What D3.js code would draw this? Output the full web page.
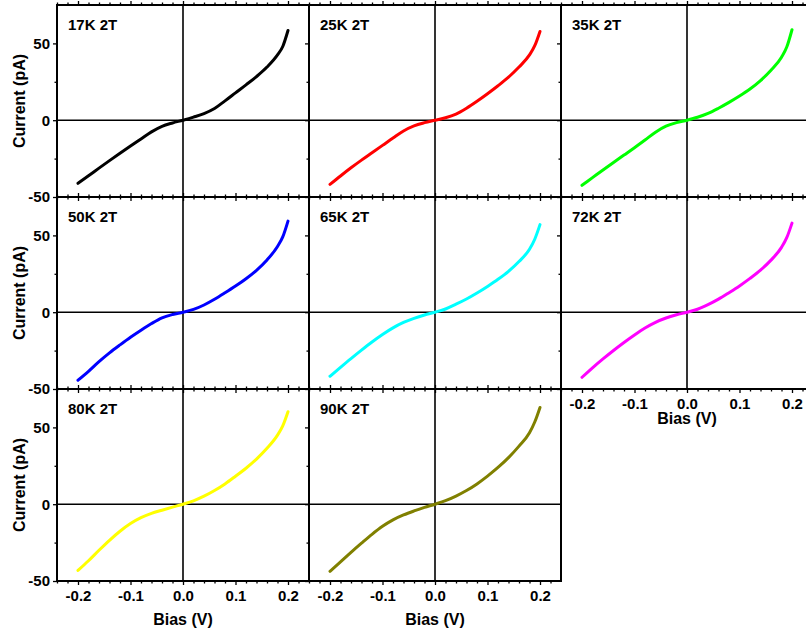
<!DOCTYPE html>
<html>
<head>
<meta charset="utf-8">
<script src="https://cdn.jsdelivr.net/npm/d3@7"></script>
<style>
  html, body { margin: 0; padding: 0; background: #fff; }
  svg { display: block; }
  text { font-family: "Liberation Sans", Arial, sans-serif; font-weight: bold; fill: #000; }
</style>
</head>
<body>
<svg id="chart" width="806" height="630"></svg>
<script>
// ---- data ----
const bias = [-0.2,-0.18,-0.16,-0.14,-0.12,-0.1,-0.08,-0.06,-0.04,-0.02,0,0.02,0.04,0.06,0.08,0.1,0.12,0.14,0.16,0.18,0.19,0.2];
const panelLabels = ["17K 2T","25K 2T","35K 2T","50K 2T","65K 2T","72K 2T","80K 2T","90K 2T"];
const panelColors = ["#000000","#ff0000","#00ff00","#0000ff","#00ffff","#ff00ff","#ffff00","#808000"];
const i17K = [-41.1,-36.2,-31.2,-26.3,-21.5,-16.8,-12.2,-7.6,-4.0,-1.8,0,2.0,4.3,7.6,12.6,17.8,23.0,28.4,34.6,42.5,48.0,58.4];
const i25K = [-41.8,-36.3,-31.0,-26.0,-21.2,-16.4,-11.6,-7.0,-3.7,-1.6,0,1.6,4.0,7.8,12.3,17.2,22.4,28.0,34.6,42.5,48.5,57.8];
const i35K = [-42.4,-37.4,-32.4,-27.5,-22.7,-17.9,-12.9,-7.8,-3.9,-1.6,0,1.9,4.4,7.8,11.6,15.7,20.3,25.8,32.5,41.0,47.6,58.9];
const i50K = [-44.3,-38.5,-32.2,-26.5,-21.3,-16.3,-11.7,-7.4,-3.7,-1.5,0,1.8,4.7,8.4,12.6,17.0,21.8,27.3,34.0,42.8,49.0,59.3];
const i65K = [-41.7,-35.9,-30.2,-24.7,-19.4,-14.5,-10.2,-6.7,-4.0,-1.8,0,2.1,5.2,8.6,12.5,16.8,21.4,26.6,33.0,41.0,47.5,57.0];
const i72K = [-42.4,-36.2,-30.4,-24.9,-19.7,-14.8,-10.3,-6.6,-3.8,-1.7,0,1.9,4.9,8.5,12.7,17.1,22.0,27.4,33.9,42.2,48.5,58.0];
const i80K = [-43.1,-36.8,-30.0,-23.5,-17.6,-12.6,-8.8,-6.0,-3.9,-1.9,0,2.2,5.2,8.9,13.2,18.2,23.4,29.4,36.4,45.0,51.0,60.2];
const i90K = [-43.7,-37.6,-31.4,-25.4,-19.6,-14.4,-10.2,-7.0,-4.4,-2.1,0,2.3,5.3,8.9,13.2,18.3,23.9,30.3,37.8,46.5,53.5,63.0];
const xMajorTicks = [-0.2,-0.1,0,0.1,0.2];
const xMinorTicks = [-0.24,-0.22,-0.18,-0.16,-0.14,-0.12,-0.08,-0.06,-0.04,-0.02,0.02,0.04,0.06,0.08,0.12,0.14,0.16,0.18,0.22];
const yMajorTicks = [-50,0,50];
const yMinorTicks = [-25,25];
const xTitle = "Bias (V)";
const yTitle = "Current (pA)";

const series = [i17K,i25K,i35K,i50K,i65K,i72K,i80K,i90K];

// ---- layout ----
const svg = d3.select("#chart");
const pw = 252, ph = 192;
const colX = [57, 309, 561];
const rowY = [5, 197, 389];

series.forEach((vals, i) => {
  const r = Math.floor(i / 3), c = i % 3;
  const x0 = colX[c], y0 = rowY[r];
  const x = d3.scaleLinear().domain([-0.24, 0.24]).range([x0, x0 + pw]);
  const y = d3.scaleLinear().domain([-50, 75]).range([y0 + ph, y0]);
  const g = svg.append("g");

  // zero lines
  g.append("line").attr("x1", x0).attr("x2", x0 + pw).attr("y1", y(0)).attr("y2", y(0))
    .attr("stroke", "#000").attr("stroke-width", 1.6);
  g.append("line").attr("x1", x(0)).attr("x2", x(0)).attr("y1", y0).attr("y2", y0 + ph)
    .attr("stroke", "#000").attr("stroke-width", 1.6);

  // data curve
  const pts = bias.map((b, k) => [b, vals[k]]);
  g.append("path").datum(pts)
    .attr("fill", "none").attr("stroke", panelColors[i]).attr("stroke-width", 3)
    .attr("stroke-linecap", "round").attr("stroke-linejoin", "round")
    .attr("d", d3.line().x(d => x(d[0])).y(d => y(d[1])).curve(d3.curveMonotoneX));

  // axes
  const showX = (r === 2) || (i === 5);
  const showY = (c === 0);
  const fmtX = d => d.toFixed(1);
  const fmtY = d => String(d);
  const style = sel => {
    sel.select(".domain").remove();
    sel.selectAll("line").attr("stroke", "#000").attr("stroke-width", 1.3);
    sel.selectAll("text").style("font-size", "15px").style("font-family", '"Liberation Sans", Arial, sans-serif').style("font-weight", "bold");
  };
  g.append("g").attr("transform", `translate(0,${y0 + ph})`)
    .call(d3.axisBottom(x).tickValues(xMajorTicks).tickSize(4).tickPadding(5).tickFormat(showX ? fmtX : () => ""))
    .call(style);
  g.append("g").attr("transform", `translate(0,${y0 + ph})`)
    .call(d3.axisBottom(x).tickValues(xMinorTicks).tickSize(2.5).tickFormat(() => "")).call(style);
  g.append("g").attr("transform", `translate(0,${y0})`)
    .call(d3.axisTop(x).tickValues(xMajorTicks).tickSize(4).tickFormat(() => "")).call(style);
  g.append("g").attr("transform", `translate(0,${y0})`)
    .call(d3.axisTop(x).tickValues(xMinorTicks).tickSize(2.5).tickFormat(() => "")).call(style);
  g.append("g").attr("transform", `translate(${x0},0)`)
    .call(d3.axisLeft(y).tickValues(yMajorTicks).tickSize(4).tickPadding(3).tickFormat(showY ? fmtY : () => ""))
    .call(style);
  g.append("g").attr("transform", `translate(${x0},0)`)
    .call(d3.axisLeft(y).tickValues(yMinorTicks).tickSize(2.5).tickFormat(() => "")).call(style);

  // frame
  g.append("rect").attr("x", x0).attr("y", y0).attr("width", pw).attr("height", ph)
    .attr("fill", "none").attr("stroke", "#000").attr("stroke-width", 2);

  // panel label
  g.append("text").attr("x", x0 + 11).attr("y", y0 + 25).style("font-size", "15px").text(panelLabels[i]);

  if (showX) {
    const ty = (r === 2) ? y0 + ph + 44 : y0 + ph + 35;
    g.append("text").attr("x", x(0)).attr("y", ty).attr("text-anchor", "middle")
      .style("font-size", "16px").text(xTitle);
  }
  if (showY) {
    g.append("text").attr("transform", `translate(25,${y0 + ph / 2}) rotate(-90)`)
      .attr("text-anchor", "middle").style("font-size", "16px").text(yTitle);
  }
});
</script>
</body>
</html>
